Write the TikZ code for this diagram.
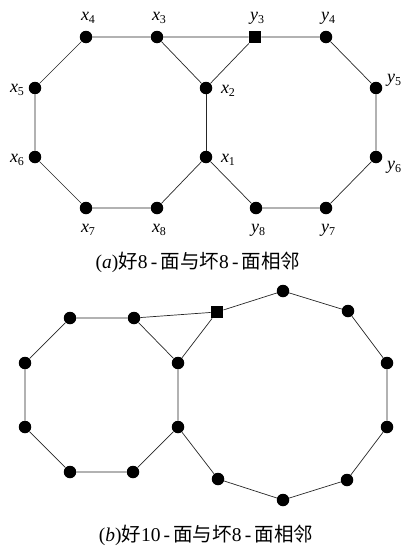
\documentclass[tikz,border=0pt]{standalone}
\usepackage{fontspec}
\setmainfont{Liberation Serif}
\newfontfamily\cjk{Noto Sans CJK SC}
\begin{document}
\begin{tikzpicture}[x=1pt,y=-1pt,
  dot/.style={circle,fill=black,inner sep=0pt,minimum size=12.5pt},
  sq/.style={rectangle,fill=black,inner sep=0pt,minimum size=12.5pt},
  edge/.style={draw=black!85,line width=0.7pt},
  lab/.style={font=\fontsize{18}{18}\selectfont,inner sep=0pt},
  captext/.style={font=\fontsize{19.5}{19.5}\selectfont,inner sep=0pt}]
\useasboundingbox (0,0) rectangle (403,549);
\newcommand{\lbx}[2]{\textit{#1}\raisebox{-0.45ex}{\fontsize{12}{12}\selectfont #2}}
% (a)
\node[dot] (x4) at (86,37) {};
\node[dot] (x3) at (157,37) {};
\node[sq]  (y3) at (255,37) {};
\node[dot] (y4) at (326,37) {};
\node[dot] (x5) at (35,88) {};
\node[dot] (x2) at (206,88) {};
\node[dot] (y5) at (376,88) {};
\node[dot] (x6) at (35,157) {};
\node[dot] (x1) at (206,157) {};
\node[dot] (y6) at (376,157) {};
\node[dot] (x7) at (86,208) {};
\node[dot] (x8) at (157,208) {};
\node[dot] (y8) at (256,208) {};
\node[dot] (y7) at (326,208) {};
\draw[edge] (x4) -- (x3) -- (y3) -- (y4) -- (y5) -- (y6) -- (y7) -- (y8) -- (x1) -- (x8) -- (x7) -- (x6) -- (x5) -- (x4);
\draw[edge] (x3) -- (x2) -- (y3);
\draw[edge] (x2) -- (x1);
\node[lab] (lx4) at (88,18) {\lbx{x}{4}};
\node[lab] (lx3) at (159,18) {\lbx{x}{3}};
\node[lab] (ly3) at (257,18) {\lbx{y}{3}};
\node[lab] (ly4) at (328,18) {\lbx{y}{4}};
\node[lab] (lx5) at (17,90) {\lbx{x}{5}};
\node[lab] (lx6) at (17,160) {\lbx{x}{6}};
\node[lab] (lx2) at (228,91) {\lbx{x}{2}};
\node[lab] (lx1) at (228,160) {\lbx{x}{1}};
\node[lab] (ly5) at (394,80) {\lbx{y}{5}};
\node[lab] (ly6) at (394,167) {\lbx{y}{6}};
\node[lab] (lx7) at (88,230) {\lbx{x}{7}};
\node[lab] (lx8) at (159,230) {\lbx{x}{8}};
\node[lab] (ly8) at (258,230) {\lbx{y}{8}};
\node[lab] (ly7) at (328,230) {\lbx{y}{7}};
\node[captext] (capa) at (198,262) {(\textit{a}){\cjk 好}8\,-\,{\cjk 面与坏}8\,-\,{\cjk 面相邻}};
% (b)
\node[dot] (a1) at (70,318) {};
\node[dot] (a2) at (134,318) {};
\node[dot] (a3) at (178,363) {};
\node[dot] (a4) at (178,427) {};
\node[dot] (a5) at (133,472) {};
\node[dot] (a6) at (70,472) {};
\node[dot] (a7) at (25,427) {};
\node[dot] (a8) at (25,363) {};
\node[sq]  (b1) at (217,312) {};
\node[dot] (b2) at (283,291) {};
\node[dot] (b3) at (348,311) {};
\node[dot] (b4) at (387,363) {};
\node[dot] (b5) at (387,427) {};
\node[dot] (b6) at (347,480) {};
\node[dot] (b7) at (283,500) {};
\node[dot] (b8) at (218,479) {};
\draw[edge] (a1) -- (a2) -- (a3) -- (a4) -- (a5) -- (a6) -- (a7) -- (a8) -- (a1);
\draw[edge] (a2) -- (b1) -- (b2) -- (b3) -- (b4) -- (b5) -- (b6) -- (b7) -- (b8) -- (a4);
\draw[edge] (b1) -- (a3);
\node[captext] (capb) at (206,535) {(\textit{b}){\cjk 好}10\,-\,{\cjk 面与坏}8\,-\,{\cjk 面相邻}};
\end{tikzpicture}
\end{document}
